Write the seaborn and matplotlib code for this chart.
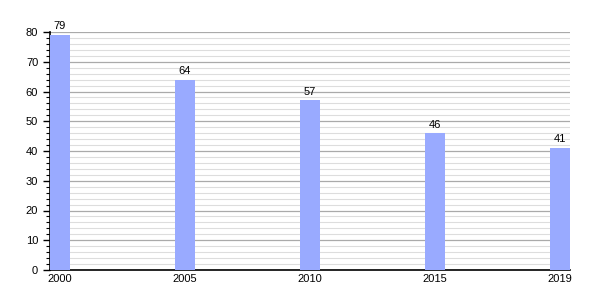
import matplotlib
matplotlib.use("Agg")
import matplotlib.pyplot as plt
import seaborn as sns
import pandas as pd
from matplotlib.ticker import MultipleLocator

years = ["2000", "2005", "2010", "2015", "2019"]
values = [79, 64, 57, 46, 41]

sns.set_style("white")
plt.rcParams['font.family'] = ['Liberation Sans', 'DejaVu Sans']
plt.rcParams['text.color'] = 'black'
plt.rcParams['xtick.color'] = 'black'
plt.rcParams['ytick.color'] = 'black'

df = pd.DataFrame({"year": years, "value": values})

fig = plt.figure(figsize=(6, 3), dpi=100)
ax = fig.add_axes([50/600, 30/300, 520/600, 238/300])

sns.barplot(data=df, x="year", y="value", color="#99aaff", saturation=1,
            width=0.16, ax=ax, zorder=3, linewidth=0)

ax.set_xlim(-0.08, 4.08)
ax.set_ylim(0, 80)
ax.yaxis.set_major_locator(MultipleLocator(10))
ax.yaxis.set_minor_locator(MultipleLocator(2))
ax.grid(True, which="major", axis="y", color="#aaaaaa", linewidth=0.9, zorder=0)
ax.grid(True, which="minor", axis="y", color="#dddddd", linewidth=0.8, zorder=0)
ax.set_axisbelow(True)

for s in ["top", "right"]:
    ax.spines[s].set_visible(False)
for s in ["left", "bottom"]:
    ax.spines[s].set_color("black")
    ax.spines[s].set_linewidth(1.2)

ax.tick_params(axis="y", which="major", length=5, width=1, color="black",
               labelsize=8, left=True, direction="out", labelcolor="black")
ax.tick_params(axis="y", which="minor", length=3, width=0.8, color="black",
               left=True, direction="out")
ax.tick_params(axis="x", length=0, labelsize=8, pad=3, labelcolor="black")
ax.set_xlabel("")
ax.set_ylabel("")

for i, v in enumerate(values):
    ax.text(i, v + 1.2, str(v), ha="center", va="bottom", fontsize=8,
            color="black", clip_on=False)

fig.savefig("out.png", dpi=100)
